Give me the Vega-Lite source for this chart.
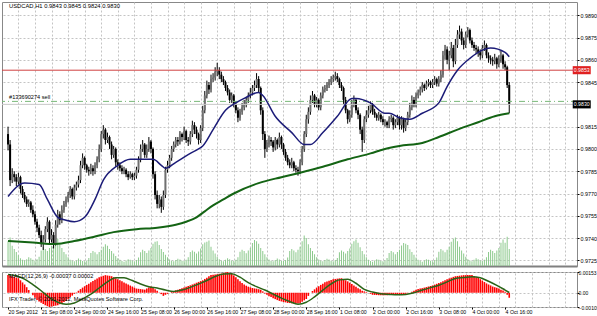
{
"$schema":"https://vega.github.io/schema/vega-lite/v6.json",
"background":"white",
"padding":{"left":1,"top":1,"right":-1,"bottom":0},
"spacing":2,
"config":{"font":"Liberation Sans, sans-serif","view":{"stroke":"#888888","strokeWidth":1},"axis":{"labelFont":"Liberation Sans, sans-serif","labelFontSize":5.4,"labelColor":"#000000","tickColor":"#000000","domain":false,"title":null,"labelOverlap":false},"text":{"font":"Liberation Sans, sans-serif"}},
"datasets":{
"bars":[
{"i":0,"o":0.9810,"h":0.9815,"l":0.9799,"c":0.9803,"v":80,"m":0.00130},
{"i":1,"o":0.9803,"h":0.9806,"l":0.9775,"c":0.9779,"v":92,"m":0.00126},
{"i":2,"o":0.9779,"h":0.9787,"l":0.9777,"c":0.9783,"v":65,"m":0.00121},
{"i":3,"o":0.9783,"h":0.9785,"l":0.9778,"c":0.9781,"v":55,"m":0.00116},
{"i":4,"o":0.9781,"h":0.9783,"l":0.9775,"c":0.9778,"v":45,"m":0.00111},
{"i":5,"o":0.9778,"h":0.9784,"l":0.9776,"c":0.9781,"v":35,"m":0.00107},
{"i":6,"o":0.9781,"h":0.9782,"l":0.9770,"c":0.9773,"v":25,"m":0.00092},
{"i":7,"o":0.9773,"h":0.9775,"l":0.9767,"c":0.9769,"v":20,"m":0.00076},
{"i":8,"o":0.9769,"h":0.9771,"l":0.9764,"c":0.9766,"v":18,"m":0.00061},
{"i":9,"o":0.9766,"h":0.9768,"l":0.9761,"c":0.9763,"v":22,"m":0.00041},
{"i":10,"o":0.9763,"h":0.9766,"l":0.9761,"c":0.9764,"v":28,"m":0.00020},
{"i":11,"o":0.9764,"h":0.9765,"l":0.9757,"c":0.9759,"v":25,"m":0.0},
{"i":12,"o":0.9759,"h":0.9762,"l":0.9754,"c":0.9756,"v":20,"m":-0.00018},
{"i":13,"o":0.9756,"h":0.9758,"l":0.9749,"c":0.9751,"v":18,"m":-0.00036},
{"i":14,"o":0.9751,"h":0.9753,"l":0.9744,"c":0.9747,"v":22,"m":-0.00054},
{"i":15,"o":0.9747,"h":0.9749,"l":0.9740,"c":0.9742,"v":30,"m":-0.00064},
{"i":16,"o":0.9742,"h":0.9745,"l":0.9734,"c":0.9736,"v":50,"m":-0.00074},
{"i":17,"o":0.9736,"h":0.9742,"l":0.9732,"c":0.9739,"v":60,"m":-0.00083},
{"i":18,"o":0.9739,"h":0.9748,"l":0.9737,"c":0.9746,"v":55,"m":-0.00092},
{"i":19,"o":0.9746,"h":0.9754,"l":0.9744,"c":0.9751,"v":48,"m":-0.00099},
{"i":20,"o":0.9751,"h":0.9752,"l":0.9736,"c":0.9739,"v":58,"m":-0.00105},
{"i":21,"o":0.9739,"h":0.9746,"l":0.9737,"c":0.9742,"v":65,"m":-0.00102},
{"i":22,"o":0.9742,"h":0.9744,"l":0.9733,"c":0.9736,"v":90,"m":-0.00098},
{"i":23,"o":0.9736,"h":0.9752,"l":0.9735,"c":0.9749,"v":95,"m":-0.00095},
{"i":24,"o":0.9749,"h":0.9759,"l":0.9747,"c":0.9756,"v":88,"m":-0.00092},
{"i":25,"o":0.9756,"h":0.9758,"l":0.9749,"c":0.9752,"v":70,"m":-0.00084},
{"i":26,"o":0.9752,"h":0.9762,"l":0.9750,"c":0.9759,"v":58,"m":-0.00076},
{"i":27,"o":0.9759,"h":0.9765,"l":0.9757,"c":0.9763,"v":45,"m":-0.00069},
{"i":28,"o":0.9763,"h":0.9768,"l":0.9761,"c":0.9766,"v":38,"m":-0.00061},
{"i":29,"o":0.9766,"h":0.9771,"l":0.9764,"c":0.9769,"v":28,"m":-0.00048},
{"i":30,"o":0.9769,"h":0.9775,"l":0.9767,"c":0.9773,"v":20,"m":-0.00034},
{"i":31,"o":0.9773,"h":0.9774,"l":0.9766,"c":0.9768,"v":17,"m":-0.00021},
{"i":32,"o":0.9768,"h":0.9776,"l":0.9766,"c":0.9774,"v":15,"m":-0.00008},
{"i":33,"o":0.9774,"h":0.9778,"l":0.9772,"c":0.9776,"v":18,"m":0.00003},
{"i":34,"o":0.9776,"h":0.9782,"l":0.9774,"c":0.9779,"v":24,"m":0.00015},
{"i":35,"o":0.9779,"h":0.9792,"l":0.9777,"c":0.9789,"v":20,"m":0.00027},
{"i":36,"o":0.9789,"h":0.9797,"l":0.9787,"c":0.9794,"v":16,"m":0.00038},
{"i":37,"o":0.9794,"h":0.9795,"l":0.9786,"c":0.9789,"v":15,"m":0.00048},
{"i":38,"o":0.9789,"h":0.9790,"l":0.9784,"c":0.9786,"v":18,"m":0.00058},
{"i":39,"o":0.9786,"h":0.9788,"l":0.9782,"c":0.9785,"v":26,"m":0.00067},
{"i":40,"o":0.9785,"h":0.9790,"l":0.9783,"c":0.9787,"v":42,"m":0.00077},
{"i":41,"o":0.9787,"h":0.9789,"l":0.9782,"c":0.9785,"v":48,"m":0.00086},
{"i":42,"o":0.9785,"h":0.9791,"l":0.9783,"c":0.9789,"v":44,"m":0.00096},
{"i":43,"o":0.9789,"h":0.9795,"l":0.9787,"c":0.9793,"v":38,"m":0.00106},
{"i":44,"o":0.9793,"h":0.9803,"l":0.9791,"c":0.9800,"v":45,"m":0.00115},
{"i":45,"o":0.9800,"h":0.9812,"l":0.9798,"c":0.9810,"v":52,"m":0.00120},
{"i":46,"o":0.9810,"h":0.9816,"l":0.9807,"c":0.9813,"v":62,"m":0.00125},
{"i":47,"o":0.9813,"h":0.9814,"l":0.9803,"c":0.9806,"v":70,"m":0.00130},
{"i":48,"o":0.9806,"h":0.9811,"l":0.9804,"c":0.9808,"v":65,"m":0.00127},
{"i":49,"o":0.9808,"h":0.9809,"l":0.9800,"c":0.9803,"v":55,"m":0.00125},
{"i":50,"o":0.9803,"h":0.9805,"l":0.9793,"c":0.9796,"v":48,"m":0.00122},
{"i":51,"o":0.9796,"h":0.9802,"l":0.9794,"c":0.9800,"v":40,"m":0.00115},
{"i":52,"o":0.9800,"h":0.9801,"l":0.9788,"c":0.9791,"v":32,"m":0.00107},
{"i":53,"o":0.9791,"h":0.9793,"l":0.9786,"c":0.9789,"v":25,"m":0.00100},
{"i":54,"o":0.9789,"h":0.9791,"l":0.9785,"c":0.9787,"v":20,"m":0.00092},
{"i":55,"o":0.9787,"h":0.9789,"l":0.9783,"c":0.9785,"v":16,"m":0.00084},
{"i":56,"o":0.9785,"h":0.9788,"l":0.9783,"c":0.9786,"v":14,"m":0.00076},
{"i":57,"o":0.9786,"h":0.9787,"l":0.9781,"c":0.9783,"v":18,"m":0.00069},
{"i":58,"o":0.9783,"h":0.9785,"l":0.9779,"c":0.9781,"v":22,"m":0.00061},
{"i":59,"o":0.9781,"h":0.9785,"l":0.9780,"c":0.9783,"v":20,"m":0.00053},
{"i":60,"o":0.9783,"h":0.9784,"l":0.9779,"c":0.9781,"v":17,"m":0.00046},
{"i":61,"o":0.9781,"h":0.9784,"l":0.9779,"c":0.9782,"v":15,"m":0.00038},
{"i":62,"o":0.9782,"h":0.9788,"l":0.9780,"c":0.9786,"v":19,"m":0.00031},
{"i":63,"o":0.9786,"h":0.9795,"l":0.9784,"c":0.9793,"v":27,"m":0.00029},
{"i":64,"o":0.9793,"h":0.9803,"l":0.9791,"c":0.9800,"v":44,"m":0.00027},
{"i":65,"o":0.9800,"h":0.9806,"l":0.9798,"c":0.9803,"v":52,"m":0.00025},
{"i":66,"o":0.9803,"h":0.9804,"l":0.9794,"c":0.9796,"v":48,"m":0.00023},
{"i":67,"o":0.9796,"h":0.9803,"l":0.9794,"c":0.9800,"v":42,"m":0.00031},
{"i":68,"o":0.9800,"h":0.9808,"l":0.9798,"c":0.9805,"v":50,"m":0.00038},
{"i":69,"o":0.9805,"h":0.9806,"l":0.9797,"c":0.9800,"v":58,"m":0.00046},
{"i":70,"o":0.9800,"h":0.9801,"l":0.9780,"c":0.9783,"v":72,"m":0.00036},
{"i":71,"o":0.9783,"h":0.9785,"l":0.9766,"c":0.9769,"v":78,"m":0.00025},
{"i":72,"o":0.9769,"h":0.9772,"l":0.9760,"c":0.9763,"v":80,"m":0.00015},
{"i":73,"o":0.9763,"h":0.9769,"l":0.9760,"c":0.9766,"v":68,"m":0.00002},
{"i":74,"o":0.9766,"h":0.9768,"l":0.9757,"c":0.9761,"v":55,"m":-0.00010},
{"i":75,"o":0.9761,"h":0.9772,"l":0.9759,"c":0.9769,"v":45,"m":-0.00023},
{"i":76,"o":0.9769,"h":0.9788,"l":0.9767,"c":0.9786,"v":36,"m":-0.00015},
{"i":77,"o":0.9786,"h":0.9792,"l":0.9784,"c":0.9789,"v":28,"m":-0.00008},
{"i":78,"o":0.9789,"h":0.9796,"l":0.9787,"c":0.9794,"v":21,"m":0.0},
{"i":79,"o":0.9794,"h":0.9802,"l":0.9792,"c":0.9800,"v":17,"m":0.00006},
{"i":80,"o":0.9800,"h":0.9805,"l":0.9798,"c":0.9803,"v":15,"m":0.00013},
{"i":81,"o":0.9803,"h":0.9808,"l":0.9801,"c":0.9806,"v":19,"m":0.00018},
{"i":82,"o":0.9806,"h":0.9808,"l":0.9802,"c":0.9805,"v":23,"m":0.00023},
{"i":83,"o":0.9805,"h":0.9812,"l":0.9803,"c":0.9810,"v":21,"m":0.00028},
{"i":84,"o":0.9810,"h":0.9811,"l":0.9805,"c":0.9808,"v":17,"m":0.00033},
{"i":85,"o":0.9808,"h":0.9815,"l":0.9806,"c":0.9812,"v":16,"m":0.00038},
{"i":86,"o":0.9812,"h":0.9813,"l":0.9804,"c":0.9806,"v":20,"m":0.00044},
{"i":87,"o":0.9806,"h":0.9808,"l":0.9802,"c":0.9805,"v":28,"m":0.00050},
{"i":88,"o":0.9805,"h":0.9812,"l":0.9803,"c":0.9810,"v":45,"m":0.00055},
{"i":89,"o":0.9810,"h":0.9819,"l":0.9808,"c":0.9816,"v":50,"m":0.00061},
{"i":90,"o":0.9816,"h":0.9818,"l":0.9810,"c":0.9813,"v":46,"m":0.00067},
{"i":91,"o":0.9813,"h":0.9815,"l":0.9807,"c":0.9810,"v":40,"m":0.00074},
{"i":92,"o":0.9810,"h":0.9811,"l":0.9803,"c":0.9806,"v":47,"m":0.00080},
{"i":93,"o":0.9806,"h":0.9816,"l":0.9804,"c":0.9814,"v":56,"m":0.00086},
{"i":94,"o":0.9814,"h":0.9829,"l":0.9812,"c":0.9826,"v":70,"m":0.00092},
{"i":95,"o":0.9826,"h":0.9839,"l":0.9824,"c":0.9836,"v":76,"m":0.00102},
{"i":96,"o":0.9836,"h":0.9846,"l":0.9834,"c":0.9843,"v":78,"m":0.00111},
{"i":97,"o":0.9843,"h":0.9845,"l":0.9837,"c":0.9840,"v":82,"m":0.00121},
{"i":98,"o":0.9840,"h":0.9850,"l":0.9838,"c":0.9847,"v":62,"m":0.00130},
{"i":99,"o":0.9847,"h":0.9851,"l":0.9845,"c":0.9848,"v":50,"m":0.00132},
{"i":100,"o":0.9848,"h":0.9855,"l":0.9846,"c":0.9852,"v":40,"m":0.00135},
{"i":101,"o":0.9852,"h":0.9858,"l":0.9849,"c":0.9853,"v":30,"m":0.00137},
{"i":102,"o":0.9853,"h":0.9855,"l":0.9847,"c":0.9850,"v":22,"m":0.00140},
{"i":103,"o":0.9850,"h":0.9852,"l":0.9845,"c":0.9847,"v":18,"m":0.00142},
{"i":104,"o":0.9847,"h":0.9849,"l":0.9843,"c":0.9845,"v":15,"m":0.00146},
{"i":105,"o":0.9845,"h":0.9846,"l":0.9839,"c":0.9841,"v":20,"m":0.00150},
{"i":106,"o":0.9841,"h":0.9843,"l":0.9836,"c":0.9838,"v":25,"m":0.00153},
{"i":107,"o":0.9838,"h":0.9840,"l":0.9831,"c":0.9833,"v":22,"m":0.00147},
{"i":108,"o":0.9833,"h":0.9838,"l":0.9831,"c":0.9836,"v":18,"m":0.00140},
{"i":109,"o":0.9836,"h":0.9837,"l":0.9828,"c":0.9830,"v":16,"m":0.00128},
{"i":110,"o":0.9830,"h":0.9832,"l":0.9824,"c":0.9826,"v":20,"m":0.00115},
{"i":111,"o":0.9826,"h":0.9828,"l":0.9818,"c":0.9821,"v":28,"m":0.00100},
{"i":112,"o":0.9821,"h":0.9827,"l":0.9819,"c":0.9825,"v":46,"m":0.00085},
{"i":113,"o":0.9825,"h":0.9831,"l":0.9823,"c":0.9828,"v":52,"m":0.00072},
{"i":114,"o":0.9828,"h":0.9833,"l":0.9826,"c":0.9830,"v":48,"m":0.00060},
{"i":115,"o":0.9830,"h":0.9835,"l":0.9828,"c":0.9833,"v":41,"m":0.00052},
{"i":116,"o":0.9833,"h":0.9838,"l":0.9831,"c":0.9836,"v":50,"m":0.00045},
{"i":117,"o":0.9836,"h":0.9841,"l":0.9834,"c":0.9838,"v":58,"m":0.00040},
{"i":118,"o":0.9838,"h":0.9843,"l":0.9836,"c":0.9841,"v":74,"m":0.00035},
{"i":119,"o":0.9841,"h":0.9846,"l":0.9839,"c":0.9843,"v":84,"m":0.00032},
{"i":120,"o":0.9843,"h":0.9851,"l":0.9841,"c":0.9847,"v":80,"m":0.00030},
{"i":121,"o":0.9847,"h":0.9849,"l":0.9838,"c":0.9841,"v":72,"m":0.00026},
{"i":122,"o":0.9841,"h":0.9842,"l":0.9823,"c":0.9826,"v":58,"m":0.00022},
{"i":123,"o":0.9826,"h":0.9828,"l":0.9806,"c":0.9810,"v":48,"m":0.00010},
{"i":124,"o":0.9810,"h":0.9812,"l":0.9794,"c":0.9800,"v":38,"m":-0.00005},
{"i":125,"o":0.9800,"h":0.9806,"l":0.9798,"c":0.9803,"v":28,"m":-0.00015},
{"i":126,"o":0.9803,"h":0.9809,"l":0.9801,"c":0.9806,"v":21,"m":-0.00025},
{"i":127,"o":0.9806,"h":0.9808,"l":0.9802,"c":0.9805,"v":17,"m":-0.00032},
{"i":128,"o":0.9805,"h":0.9806,"l":0.9798,"c":0.9801,"v":15,"m":-0.00040},
{"i":129,"o":0.9801,"h":0.9808,"l":0.9799,"c":0.9806,"v":19,"m":-0.00047},
{"i":130,"o":0.9806,"h":0.9807,"l":0.9800,"c":0.9803,"v":24,"m":-0.00054},
{"i":131,"o":0.9803,"h":0.9811,"l":0.9801,"c":0.9808,"v":21,"m":-0.00060},
{"i":132,"o":0.9808,"h":0.9809,"l":0.9800,"c":0.9803,"v":17,"m":-0.00064},
{"i":133,"o":0.9803,"h":0.9804,"l":0.9796,"c":0.9798,"v":16,"m":-0.00068},
{"i":134,"o":0.9798,"h":0.9800,"l":0.9792,"c":0.9794,"v":19,"m":-0.00071},
{"i":135,"o":0.9794,"h":0.9796,"l":0.9789,"c":0.9791,"v":27,"m":-0.00075},
{"i":136,"o":0.9791,"h":0.9793,"l":0.9787,"c":0.9789,"v":48,"m":-0.00076},
{"i":137,"o":0.9789,"h":0.9794,"l":0.9787,"c":0.9791,"v":55,"m":-0.00078},
{"i":138,"o":0.9791,"h":0.9792,"l":0.9785,"c":0.9787,"v":50,"m":-0.00079},
{"i":139,"o":0.9787,"h":0.9789,"l":0.9784,"c":0.9786,"v":44,"m":-0.00080},
{"i":140,"o":0.9786,"h":0.9788,"l":0.9782,"c":0.9785,"v":52,"m":-0.00079},
{"i":141,"o":0.9785,"h":0.9793,"l":0.9783,"c":0.9791,"v":62,"m":-0.00077},
{"i":142,"o":0.9791,"h":0.9802,"l":0.9789,"c":0.9800,"v":80,"m":-0.00067},
{"i":143,"o":0.9800,"h":0.9812,"l":0.9798,"c":0.9810,"v":98,"m":-0.00056},
{"i":144,"o":0.9810,"h":0.9823,"l":0.9808,"c":0.9820,"v":90,"m":-0.00046},
{"i":145,"o":0.9820,"h":0.9828,"l":0.9817,"c":0.9825,"v":70,"m":-0.00023},
{"i":146,"o":0.9825,"h":0.9836,"l":0.9823,"c":0.9833,"v":58,"m":0.0},
{"i":147,"o":0.9833,"h":0.9839,"l":0.9831,"c":0.9836,"v":48,"m":0.00013},
{"i":148,"o":0.9836,"h":0.9837,"l":0.9828,"c":0.9830,"v":38,"m":0.00025},
{"i":149,"o":0.9830,"h":0.9835,"l":0.9828,"c":0.9833,"v":28,"m":0.00038},
{"i":150,"o":0.9833,"h":0.9834,"l":0.9826,"c":0.9828,"v":21,"m":0.00048},
{"i":151,"o":0.9828,"h":0.9838,"l":0.9826,"c":0.9836,"v":17,"m":0.00058},
{"i":152,"o":0.9836,"h":0.9842,"l":0.9834,"c":0.9840,"v":15,"m":0.00067},
{"i":153,"o":0.9840,"h":0.9843,"l":0.9838,"c":0.9841,"v":19,"m":0.00077},
{"i":154,"o":0.9841,"h":0.9845,"l":0.9839,"c":0.9843,"v":23,"m":0.00083},
{"i":155,"o":0.9843,"h":0.9847,"l":0.9841,"c":0.9845,"v":21,"m":0.00089},
{"i":156,"o":0.9845,"h":0.9849,"l":0.9843,"c":0.9847,"v":17,"m":0.00094},
{"i":157,"o":0.9847,"h":0.9850,"l":0.9845,"c":0.9848,"v":15,"m":0.00100},
{"i":158,"o":0.9848,"h":0.9852,"l":0.9846,"c":0.9849,"v":19,"m":0.00102},
{"i":159,"o":0.9849,"h":0.9851,"l":0.9845,"c":0.9847,"v":26,"m":0.00104},
{"i":160,"o":0.9847,"h":0.9848,"l":0.9841,"c":0.9843,"v":44,"m":0.00106},
{"i":161,"o":0.9843,"h":0.9845,"l":0.9839,"c":0.9841,"v":50,"m":0.00107},
{"i":162,"o":0.9841,"h":0.9842,"l":0.9830,"c":0.9833,"v":46,"m":0.00100},
{"i":163,"o":0.9833,"h":0.9835,"l":0.9824,"c":0.9826,"v":40,"m":0.00092},
{"i":164,"o":0.9826,"h":0.9827,"l":0.9817,"c":0.9820,"v":48,"m":0.00084},
{"i":165,"o":0.9820,"h":0.9826,"l":0.9818,"c":0.9823,"v":56,"m":0.00074},
{"i":166,"o":0.9823,"h":0.9833,"l":0.9821,"c":0.9830,"v":72,"m":0.00064},
{"i":167,"o":0.9830,"h":0.9836,"l":0.9828,"c":0.9833,"v":80,"m":0.00054},
{"i":168,"o":0.9833,"h":0.9834,"l":0.9824,"c":0.9826,"v":85,"m":0.00044},
{"i":169,"o":0.9826,"h":0.9828,"l":0.9820,"c":0.9823,"v":75,"m":0.00034},
{"i":170,"o":0.9823,"h":0.9824,"l":0.9810,"c":0.9813,"v":60,"m":0.00025},
{"i":171,"o":0.9813,"h":0.9815,"l":0.9798,"c":0.9806,"v":48,"m":0.00015},
{"i":172,"o":0.9806,"h":0.9822,"l":0.9804,"c":0.9820,"v":38,"m":0.00010},
{"i":173,"o":0.9820,"h":0.9826,"l":0.9818,"c":0.9823,"v":28,"m":0.00005},
{"i":174,"o":0.9823,"h":0.9829,"l":0.9821,"c":0.9826,"v":20,"m":0.0},
{"i":175,"o":0.9826,"h":0.9832,"l":0.9824,"c":0.9830,"v":16,"m":-0.00008},
{"i":176,"o":0.9830,"h":0.9831,"l":0.9823,"c":0.9825,"v":14,"m":-0.00015},
{"i":177,"o":0.9825,"h":0.9827,"l":0.9821,"c":0.9823,"v":18,"m":-0.00016},
{"i":178,"o":0.9823,"h":0.9824,"l":0.9819,"c":0.9821,"v":22,"m":-0.00017},
{"i":179,"o":0.9821,"h":0.9825,"l":0.9819,"c":0.9823,"v":20,"m":-0.00018},
{"i":180,"o":0.9823,"h":0.9824,"l":0.9818,"c":0.9820,"v":16,"m":-0.00019},
{"i":181,"o":0.9820,"h":0.9822,"l":0.9816,"c":0.9818,"v":15,"m":-0.00019},
{"i":182,"o":0.9818,"h":0.9820,"l":0.9815,"c":0.9818,"v":18,"m":-0.00018},
{"i":183,"o":0.9818,"h":0.9819,"l":0.9814,"c":0.9816,"v":26,"m":-0.00018},
{"i":184,"o":0.9816,"h":0.9822,"l":0.9814,"c":0.9820,"v":42,"m":-0.00017},
{"i":185,"o":0.9820,"h":0.9823,"l":0.9818,"c":0.9821,"v":48,"m":-0.00016},
{"i":186,"o":0.9821,"h":0.9822,"l":0.9813,"c":0.9816,"v":44,"m":-0.00015},
{"i":187,"o":0.9816,"h":0.9820,"l":0.9814,"c":0.9818,"v":38,"m":-0.00015},
{"i":188,"o":0.9818,"h":0.9823,"l":0.9816,"c":0.9821,"v":45,"m":-0.00015},
{"i":189,"o":0.9821,"h":0.9822,"l":0.9813,"c":0.9816,"v":52,"m":-0.00015},
{"i":190,"o":0.9816,"h":0.9822,"l":0.9813,"c":0.9820,"v":66,"m":-0.00015},
{"i":191,"o":0.9820,"h":0.9821,"l":0.9811,"c":0.9814,"v":74,"m":-0.00011},
{"i":192,"o":0.9814,"h":0.9820,"l":0.9812,"c":0.9818,"v":72,"m":-0.00008},
{"i":193,"o":0.9818,"h":0.9825,"l":0.9816,"c":0.9823,"v":68,"m":-0.00004},
{"i":194,"o":0.9823,"h":0.9831,"l":0.9821,"c":0.9828,"v":54,"m":0.0},
{"i":195,"o":0.9828,"h":0.9836,"l":0.9826,"c":0.9833,"v":45,"m":0.00008},
{"i":196,"o":0.9833,"h":0.9835,"l":0.9828,"c":0.9830,"v":36,"m":0.00015},
{"i":197,"o":0.9830,"h":0.9838,"l":0.9828,"c":0.9836,"v":27,"m":0.00023},
{"i":198,"o":0.9836,"h":0.9840,"l":0.9834,"c":0.9838,"v":20,"m":0.00027},
{"i":199,"o":0.9838,"h":0.9842,"l":0.9836,"c":0.9840,"v":16,"m":0.00031},
{"i":200,"o":0.9840,"h":0.9845,"l":0.9838,"c":0.9843,"v":14,"m":0.00034},
{"i":201,"o":0.9843,"h":0.9844,"l":0.9839,"c":0.9841,"v":18,"m":0.00038},
{"i":202,"o":0.9841,"h":0.9846,"l":0.9840,"c":0.9844,"v":22,"m":0.00042},
{"i":203,"o":0.9844,"h":0.9847,"l":0.9842,"c":0.9845,"v":20,"m":0.00046},
{"i":204,"o":0.9845,"h":0.9846,"l":0.9841,"c":0.9843,"v":17,"m":0.00050},
{"i":205,"o":0.9843,"h":0.9847,"l":0.9841,"c":0.9845,"v":15,"m":0.00054},
{"i":206,"o":0.9845,"h":0.9849,"l":0.9843,"c":0.9847,"v":19,"m":0.00060},
{"i":207,"o":0.9847,"h":0.9848,"l":0.9842,"c":0.9844,"v":27,"m":0.00066},
{"i":208,"o":0.9844,"h":0.9849,"l":0.9842,"c":0.9847,"v":46,"m":0.00071},
{"i":209,"o":0.9847,"h":0.9853,"l":0.9845,"c":0.9850,"v":55,"m":0.00077},
{"i":210,"o":0.9850,"h":0.9866,"l":0.9848,"c":0.9863,"v":50,"m":0.00085},
{"i":211,"o":0.9863,"h":0.9870,"l":0.9860,"c":0.9867,"v":44,"m":0.00092},
{"i":212,"o":0.9867,"h":0.9869,"l":0.9857,"c":0.9860,"v":52,"m":0.00100},
{"i":213,"o":0.9860,"h":0.9866,"l":0.9853,"c":0.9863,"v":62,"m":0.00106},
{"i":214,"o":0.9863,"h":0.9872,"l":0.9861,"c":0.9868,"v":78,"m":0.00111},
{"i":215,"o":0.9868,"h":0.9870,"l":0.9855,"c":0.9859,"v":88,"m":0.00117},
{"i":216,"o":0.9859,"h":0.9874,"l":0.9857,"c":0.9870,"v":92,"m":0.00122},
{"i":217,"o":0.9870,"h":0.9880,"l":0.9868,"c":0.9877,"v":80,"m":0.00124},
{"i":218,"o":0.9877,"h":0.9883,"l":0.9874,"c":0.9879,"v":62,"m":0.00126},
{"i":219,"o":0.9879,"h":0.9881,"l":0.9870,"c":0.9873,"v":50,"m":0.00128},
{"i":220,"o":0.9873,"h":0.9875,"l":0.9867,"c":0.9870,"v":40,"m":0.00130},
{"i":221,"o":0.9870,"h":0.9879,"l":0.9868,"c":0.9877,"v":30,"m":0.00130},
{"i":222,"o":0.9877,"h":0.9882,"l":0.9875,"c":0.9880,"v":22,"m":0.00130},
{"i":223,"o":0.9880,"h":0.9881,"l":0.9871,"c":0.9873,"v":18,"m":0.00130},
{"i":224,"o":0.9873,"h":0.9875,"l":0.9868,"c":0.9870,"v":15,"m":0.00130},
{"i":225,"o":0.9870,"h":0.9872,"l":0.9866,"c":0.9868,"v":20,"m":0.00123},
{"i":226,"o":0.9868,"h":0.9870,"l":0.9864,"c":0.9867,"v":25,"m":0.00115},
{"i":227,"o":0.9867,"h":0.9869,"l":0.9862,"c":0.9865,"v":22,"m":0.00108},
{"i":228,"o":0.9865,"h":0.9867,"l":0.9860,"c":0.9863,"v":18,"m":0.00100},
{"i":229,"o":0.9863,"h":0.9870,"l":0.9861,"c":0.9868,"v":16,"m":0.00090},
{"i":230,"o":0.9868,"h":0.9873,"l":0.9866,"c":0.9870,"v":20,"m":0.00079},
{"i":231,"o":0.9870,"h":0.9871,"l":0.9861,"c":0.9863,"v":28,"m":0.00069},
{"i":232,"o":0.9863,"h":0.9865,"l":0.9858,"c":0.9861,"v":45,"m":0.00061},
{"i":233,"o":0.9861,"h":0.9863,"l":0.9857,"c":0.9860,"v":52,"m":0.00054},
{"i":234,"o":0.9860,"h":0.9862,"l":0.9856,"c":0.9859,"v":48,"m":0.00046},
{"i":235,"o":0.9859,"h":0.9864,"l":0.9857,"c":0.9861,"v":42,"m":0.00041},
{"i":236,"o":0.9861,"h":0.9862,"l":0.9854,"c":0.9857,"v":50,"m":0.00036},
{"i":237,"o":0.9857,"h":0.9863,"l":0.9855,"c":0.9860,"v":58,"m":0.00031},
{"i":238,"o":0.9860,"h":0.9866,"l":0.9858,"c":0.9863,"v":75,"m":0.00023},
{"i":239,"o":0.9863,"h":0.9864,"l":0.9854,"c":0.9857,"v":85,"m":0.00016},
{"i":240,"o":0.9857,"h":0.9859,"l":0.9853,"c":0.9855,"v":75,"m":0.00008},
{"i":241,"o":0.9855,"h":0.9856,"l":0.9841,"c":0.9843,"v":94,"m":-0.00015},
{"i":242,"o":0.9843,"h":0.9845,"l":0.9824,"c":0.9830,"v":55,"m":-0.00037}
],
"fast":[{"i":0,"p":0.9768},{"i":8,"p":0.9777},{"i":15,"p":0.9776},{"i":19,"p":0.9766},{"i":24,"p":0.9754},{"i":28,"p":0.9752},{"i":32,"p":0.9751},{"i":37,"p":0.9754},{"i":42,"p":0.9766},{"i":46,"p":0.9779},{"i":53,"p":0.9789},{"i":59,"p":0.9793},{"i":66,"p":0.9793},{"i":70,"p":0.9793},{"i":74,"p":0.9789},{"i":76,"p":0.9787},{"i":81,"p":0.9791},{"i":88,"p":0.9797},{"i":92,"p":0.9800},{"i":94,"p":0.9802},{"i":99,"p":0.9813},{"i":105,"p":0.9826},{"i":110,"p":0.9831},{"i":114,"p":0.9834},{"i":121,"p":0.9838},{"i":123,"p":0.9836},{"i":129,"p":0.9822},{"i":137,"p":0.9811},{"i":143,"p":0.9803},{"i":146,"p":0.9803},{"i":152,"p":0.9811},{"i":159,"p":0.9822},{"i":166,"p":0.9834},{"i":168,"p":0.9834},{"i":175,"p":0.9831},{"i":182,"p":0.9824},{"i":184,"p":0.9824},{"i":189,"p":0.9821},{"i":194,"p":0.9820},{"i":200,"p":0.9824},{"i":208,"p":0.9831},{"i":212,"p":0.9842},{"i":217,"p":0.9853},{"i":223,"p":0.9861},{"i":230,"p":0.9867},{"i":233,"p":0.9868},{"i":240,"p":0.9865},{"i":242,"p":0.9862}],
"slow":[{"i":0,"p":0.9738},{"i":12,"p":0.9737},{"i":23,"p":0.9736},{"i":32,"p":0.9738},{"i":42,"p":0.9741},{"i":51,"p":0.9744},{"i":62,"p":0.9746},{"i":72,"p":0.9747},{"i":81,"p":0.9749},{"i":86,"p":0.9751},{"i":91,"p":0.9754},{"i":95,"p":0.9758},{"i":99,"p":0.9762},{"i":104,"p":0.9766},{"i":109,"p":0.9770},{"i":121,"p":0.9777},{"i":132,"p":0.9781},{"i":141,"p":0.9784},{"i":152,"p":0.9788},{"i":164,"p":0.9793},{"i":175,"p":0.9797},{"i":182,"p":0.9800},{"i":189,"p":0.9802},{"i":200,"p":0.9804},{"i":208,"p":0.9808},{"i":217,"p":0.9813},{"i":227,"p":0.9818},{"i":235,"p":0.9822},{"i":242,"p":0.9824}],
"sig":[{"i":0,"s":0.00135},{"i":4,"s":0.00125},{"i":8,"s":0.00100},{"i":12,"s":0.00060},{"i":16,"s":0.00015},{"i":20,"s":-0.00035},{"i":24,"s":-0.00070},{"i":28,"s":-0.00085},{"i":32,"s":-0.00075},{"i":36,"s":-0.00045},{"i":40,"s":-0.00010},{"i":44,"s":0.00035},{"i":48,"s":0.00080},{"i":52,"s":0.00110},{"i":56,"s":0.00110},{"i":60,"s":0.00090},{"i":64,"s":0.00065},{"i":68,"s":0.00045},{"i":72,"s":0.00035},{"i":76,"s":0.00020},{"i":80,"s":0.00010},{"i":84,"s":0.00020},{"i":88,"s":0.00040},{"i":92,"s":0.00065},{"i":96,"s":0.00090},{"i":100,"s":0.00120},{"i":104,"s":0.00138},{"i":108,"s":0.00140},{"i":112,"s":0.00115},{"i":116,"s":0.00075},{"i":120,"s":0.00045},{"i":124,"s":0.00020},{"i":128,"s":-0.00010},{"i":132,"s":-0.00040},{"i":136,"s":-0.00065},{"i":140,"s":-0.00085},{"i":144,"s":-0.00070},{"i":148,"s":-0.00030},{"i":152,"s":0.00020},{"i":156,"s":0.00065},{"i":160,"s":0.00095},{"i":164,"s":0.00100},{"i":168,"s":0.00070},{"i":172,"s":0.00025},{"i":176,"s":0.00005},{"i":180,"s":-0.00008},{"i":184,"s":-0.00012},{"i":188,"s":-0.00015},{"i":192,"s":-0.00012},{"i":196,"s":0.0},{"i":200,"s":0.00020},{"i":204,"s":0.00038},{"i":208,"s":0.00055},{"i":212,"s":0.00080},{"i":216,"s":0.00105},{"i":220,"s":0.00112},{"i":224,"s":0.00118},{"i":228,"s":0.00110},{"i":232,"s":0.00085},{"i":236,"s":0.00055},{"i":240,"s":0.00020},{"i":242,"s":0.00002}],
"levels":[{"p":0.9853,"k":"sl","t":"0.9853"},{"p":0.9832,"k":"order","t":"#133690274 sell"},{"p":0.9830,"k":"bid","t":"0.9830"}]
},
"vconcat":[
{
"width":575,"height":264,
"layer":[
{"data":{"name":"bars"},"mark":{"type":"bar","size":1,"color":"#8cc98c"},
 "encoding":{
  "x":{"field":"i","type":"quantitative","scale":{"domain":[-0.5,272.3],"nice":false,"zero":false},
       "axis":{"orient":"bottom","values":[5,13,21,29,37,45,53,61,69,77,85,93,101,109,117,125,133,141,149,157,165,173,181,189,197,205,213,221,229,237,245,253,261,269],"tickCount":100,"labels":false,"ticks":false,"grid":true,"gridColor":"#c4c4c4","gridDash":[2,2],"domain":true,"domainColor":"#808080","domainWidth":2}},
  "y":{"field":"v","type":"quantitative","scale":{"domain":[0,850],"nice":false},"axis":null}}},
{"layer":[
 {"data":{"name":"bars"},"mark":{"type":"rule","color":"#000000","strokeWidth":1},
  "encoding":{"x":{"field":"i","type":"quantitative"},
   "y":{"field":"l","type":"quantitative","scale":{"domain":[0.97212,0.98989],"nice":false,"zero":false},
        "axis":{"orient":"right","values":[0.9725,0.974,0.9755,0.977,0.9785,0.98,0.9815,0.9845,0.986,0.9875,0.989],"tickCount":100,"format":".4f","grid":true,"gridColor":"#c4c4c4","gridDash":[2,2],"tickSize":2,"labelPadding":1,"labelOverlap":false}},
   "y2":{"field":"h"}}},
 {"data":{"name":"bars"},"mark":{"type":"bar","size":2},
  "encoding":{"x":{"field":"i","type":"quantitative"},"y":{"field":"o","type":"quantitative"},"y2":{"field":"c"},
   "color":{"condition":{"test":"datum.c >= datum.o","value":"#707070"},"value":"#000000"}}},
 {"data":{"name":"levels"},"transform":[{"filter":"datum.k == 'sl'"}],"mark":{"type":"rule","color":"#d04040","strokeWidth":1},"encoding":{"y":{"field":"p","type":"quantitative"}}},
 {"data":{"name":"levels"},"transform":[{"filter":"datum.k == 'bid'"}],"mark":{"type":"rule","color":"#c8c8c8","strokeWidth":1},"encoding":{"y":{"field":"p","type":"quantitative"}}},
 {"data":{"name":"levels"},"transform":[{"filter":"datum.k == 'order'"}],"mark":{"type":"rule","color":"#78b878","strokeWidth":1,"strokeDash":[6,3,1,3]},"encoding":{"y":{"field":"p","type":"quantitative"}}},
 {"data":{"name":"slow"},"mark":{"type":"line","color":"#146414","strokeWidth":2,"interpolate":"monotone"},"encoding":{"x":{"field":"i","type":"quantitative"},"y":{"field":"p","type":"quantitative"}}},
 {"data":{"name":"fast"},"mark":{"type":"line","color":"#1c1c78","strokeWidth":1.5,"interpolate":"monotone"},"encoding":{"x":{"field":"i","type":"quantitative"},"y":{"field":"p","type":"quantitative"}}},
 {"data":{"name":"levels"},"transform":[{"filter":"datum.k == 'order'"}],"mark":{"type":"text","align":"left","baseline":"bottom","fontSize":5.6,"dy":-1,"color":"#000000"},"encoding":{"x":{"datum":0.5,"type":"quantitative"},"y":{"field":"p","type":"quantitative"},"text":{"field":"t"}}},
 {"data":{"name":"levels"},"transform":[{"filter":"datum.k == 'sl'"}],"mark":{"type":"point","shape":"M-1,-0.45H1V0.45H-1Z","size":324,"filled":true,"color":"#e02020","opacity":1},"encoding":{"x":{"datum":277,"type":"quantitative"},"y":{"field":"p","type":"quantitative"}}},
 {"data":{"name":"levels"},"transform":[{"filter":"datum.k == 'bid'"}],"mark":{"type":"point","shape":"M-1,-0.45H1V0.45H-1Z","size":324,"filled":true,"color":"#000000","opacity":1},"encoding":{"x":{"datum":277,"type":"quantitative"},"y":{"field":"p","type":"quantitative"}}},
 {"data":{"name":"levels"},"transform":[{"filter":"datum.k != 'order'"}],"mark":{"type":"text","align":"center","baseline":"middle","fontSize":5.2,"color":"#ffffff"},"encoding":{"x":{"datum":277,"type":"quantitative"},"y":{"field":"p","type":"quantitative"},"text":{"field":"t"}}},
 {"data":{"values":[{"t":"USDCAD,H1  0.9843 0.9845 0.9824 0.9830"}]},"mark":{"type":"text","align":"left","baseline":"middle","fontSize":5.8,"color":"#000000"},"encoding":{"x":{"datum":0.5,"type":"quantitative"},"y":{"datum":0.98962,"type":"quantitative"},"text":{"field":"t"}}}
]}
],
"resolve":{"scale":{"y":"independent"}}
},
{
"width":575,"height":35,
"layer":[
 {"data":{"name":"bars"},"mark":{"type":"bar","size":1.6,"color":"#ff0000"},
  "encoding":{
   "x":{"field":"i","type":"quantitative","scale":{"domain":[-0.5,272.3],"nice":false,"zero":false},
        "axis":{"orient":"bottom","values":[0,16,32,48,64,80,96,112,128,144,160,176,192,208,224,240],"tickCount":100,"labelExpr":"['20 Sep 2012','21 Sep 08:00','24 Sep 00:00','24 Sep 16:00','25 Sep 08:00','26 Sep 00:00','26 Sep 16:00','27 Sep 08:00','28 Sep 00:00','28 Sep 16:00','1 Oct 08:00','2 Oct 00:00','2 Oct 16:00','3 Oct 08:00','4 Oct 00:00','4 Oct 16:00'][round(datum.value/16)]","labelAlign":"left","labelBaseline":"top","labelFontSize":5.2,"labelOverlap":false,"labelFlush":false,"tickSize":2,"labelPadding":0,"grid":false}},
   "y":{"field":"m","type":"quantitative","scale":{"domain":[-0.00105,0.00153],"nice":false,"zero":false},
        "axis":{"orient":"right","values":[-0.00105,0,0.00153],"tickCount":100,"labelExpr":"datum.value == 0 ? '0.00' : format(datum.value, '.5f')","labelFontSize":5,"grid":true,"gridColor":"#c4c4c4","gridDash":[2,2],"tickSize":2,"labelPadding":-1,"labelOverlap":false}},
   "y2":{"datum":0}}},
 {"data":{"name":"sig"},"mark":{"type":"line","color":"#2a6418","strokeWidth":1.5,"interpolate":"monotone"},
  "encoding":{"x":{"field":"i","type":"quantitative","axis":{"orient":"top","values":[5,13,21,29,37,45,53,61,69,77,85,93,101,109,117,125,133,141,149,157,165,173,181,189,197,205,213,221,229,237,245,253,261,269],"tickCount":100,"labels":false,"ticks":false,"grid":true,"gridColor":"#c4c4c4","gridDash":[2,2],"domain":false}},"y":{"field":"s","type":"quantitative"}}},
 {"data":{"values":[{"t":"MACD(12,26,9) -0.00037 0.00002","p":0.00122},{"t":"IFX Trader, © 2001-2012, MetaQuotes Software Corp.","p":-0.00048}]},"mark":{"type":"text","align":"left","baseline":"middle","fontSize":5.6,"color":"#000000"},"encoding":{"x":{"datum":0.5,"type":"quantitative","axis":null},"y":{"field":"p","type":"quantitative"},"text":{"field":"t"}}}
],
"resolve":{"axis":{"x":"independent"}}
}
]
}
